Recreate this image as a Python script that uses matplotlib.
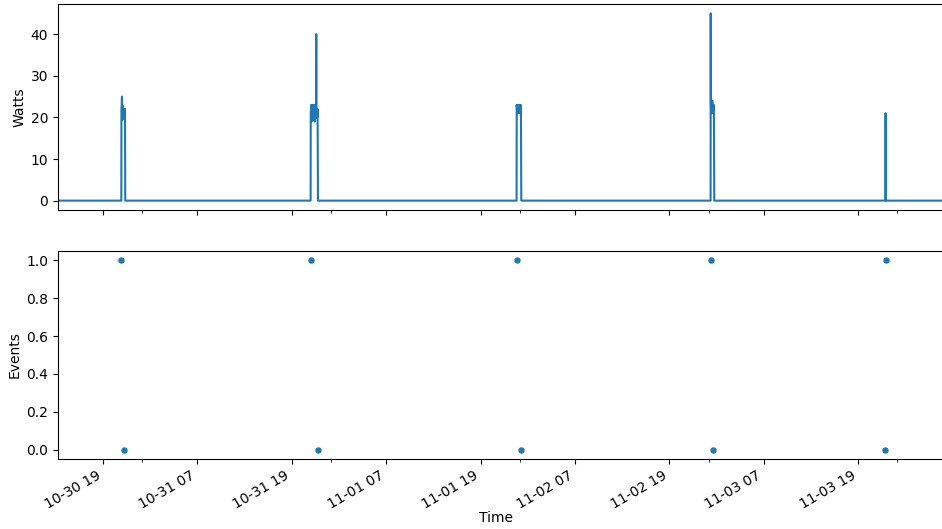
import matplotlib
matplotlib.use("Agg")
import matplotlib.pyplot as plt
import matplotlib.dates as mdates
import numpy as np
import pandas as pd

# Power readings (timestamp, watts)
power_times = [
    "2016-10-30 13:17", "2016-10-30 21:20",
    "2016-10-30 21:21", "2016-10-30 21:23", "2016-10-30 21:25", "2016-10-30 21:26",
    "2016-10-30 21:28", "2016-10-30 21:30", "2016-10-30 21:32", "2016-10-30 21:34",
    "2016-10-30 21:36", "2016-10-30 21:38", "2016-10-30 21:40", "2016-10-30 21:42",
    "2016-10-30 21:44", "2016-10-30 21:46", "2016-10-30 21:48", "2016-10-30 21:50",
    "2016-10-31 21:24",
    "2016-10-31 21:25", "2016-10-31 21:28", "2016-10-31 21:31", "2016-10-31 21:34",
    "2016-10-31 21:37", "2016-10-31 21:40", "2016-10-31 21:43", "2016-10-31 21:46",
    "2016-10-31 21:49", "2016-10-31 21:52", "2016-10-31 21:55", "2016-10-31 21:58",
    "2016-10-31 22:01", "2016-10-31 22:04", "2016-10-31 22:06", "2016-10-31 22:07",
    "2016-10-31 22:08", "2016-10-31 22:11", "2016-10-31 22:14", "2016-10-31 22:17",
    "2016-10-31 22:20",
    "2016-11-01 23:35",
    "2016-11-01 23:36", "2016-11-01 23:40", "2016-11-01 23:44", "2016-11-01 23:48",
    "2016-11-01 23:52", "2016-11-01 23:56", "2016-11-02 00:00", "2016-11-02 00:04",
    "2016-11-02 00:08", "2016-11-02 00:11",
    "2016-11-03 00:15",
    "2016-11-03 00:16", "2016-11-03 00:17", "2016-11-03 00:19", "2016-11-03 00:22",
    "2016-11-03 00:25", "2016-11-03 00:28", "2016-11-03 00:31", "2016-11-03 00:34",
    "2016-11-03 00:37", "2016-11-03 00:40", "2016-11-03 00:43",
    "2016-11-03 22:29", "2016-11-03 22:30", "2016-11-03 22:31",
    "2016-11-04 06:00",
]
power_watts = [
    0, 0,
    22, 23, 25, 20,
    23, 19.5, 22, 20,
    22, 21, 22, 20,
    22, 21, 22, 0,
    0,
    21, 23, 19, 22, 20,
    23, 19.5, 22, 20,
    23, 19, 22, 20,
    22, 21, 40, 20,
    22, 20, 22, 0,
    0,
    23, 21, 23, 22,
    23, 21, 23, 22,
    23, 0,
    0,
    45, 24, 21, 23,
    22, 24, 21, 23,
    22, 23, 0,
    0, 21, 0,
    0,
]

# Events (timestamp, state)
event_times = [
    "2016-10-30 21:18", "2016-10-30 21:42",
    "2016-10-31 21:25", "2016-10-31 22:18",
    "2016-11-01 23:38", "2016-11-02 00:06",
    "2016-11-03 00:16", "2016-11-03 00:37",
    "2016-11-03 22:30", "2016-11-03 22:28",
]
event_values = [1, 0, 1, 0, 1, 0, 1, 0, 1, 0]

pt = pd.to_datetime(power_times)
et = pd.to_datetime(event_times)

fig = plt.figure(figsize=(9.42, 5.29), dpi=100)
W, H = 942, 529
left = 58 / W
width = 886.6 / W
ax1 = fig.add_axes([left, (H - 210) / H, width, 206 / H])
ax2 = fig.add_axes([left, (H - 459) / H, width, 208 / H], sharex=ax1)

ax1.plot(pt, power_watts, color="#1f77b4", lw=1.5)
ax1.set_ylabel("Watts")
ax1.yaxis.set_label_coords((27 - 58) / 886.6, 0.5)
ax2.plot(et, event_values, linestyle="none", marker="o", ms=3.6, color="#1f77b4")
ax2.set_ylabel("Events")
ax2.yaxis.set_label_coords((22 - 58) / 886.6, 0.5)
ax2.set_xlabel("Time")
ax2.xaxis.set_label_coords((496 - 58) / 886.6, (459 - 511) / 208)
ax2.set_yticks([0.0, 0.2, 0.4, 0.6, 0.8, 1.0])

ax1.set_xlim(pt[0], pt[-1])
ax2.xaxis.set_major_locator(mdates.HourLocator(byhour=[7, 19]))
ax2.xaxis.set_minor_locator(mdates.DayLocator())
ax2.xaxis.set_major_formatter(mdates.DateFormatter("%m-%d %H"))
plt.setp(ax1.get_xticklabels(), visible=False)
for lab in ax2.get_xticklabels():
    lab.set_rotation(30)
    lab.set_ha("right")

fig.savefig("out.png", dpi=100)
